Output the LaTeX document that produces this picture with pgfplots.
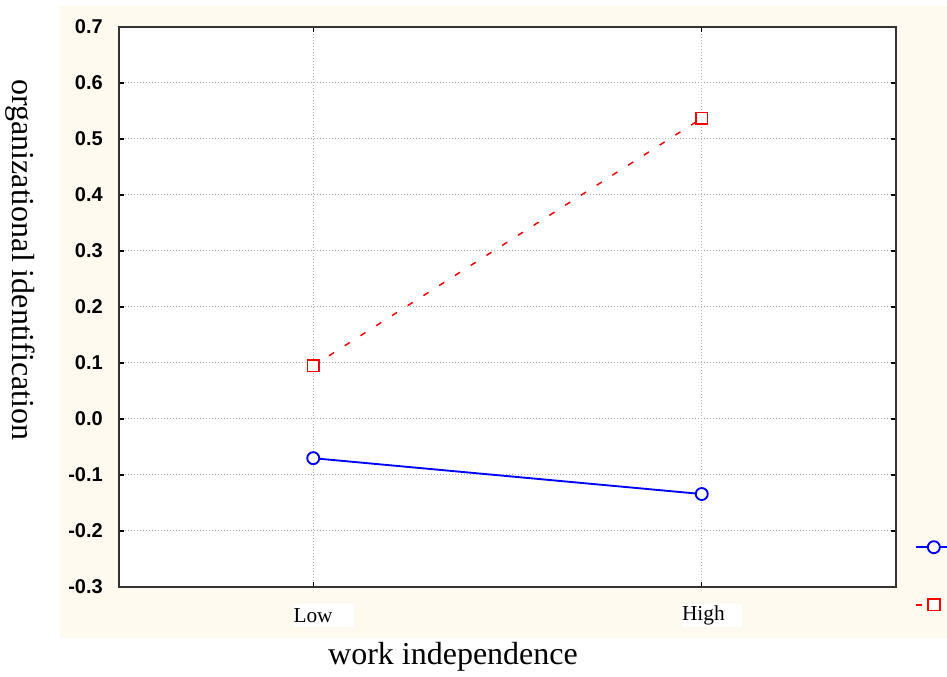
\documentclass[border=0pt]{standalone}
\usepackage{pgfplots}
\pgfplotsset{compat=1.18}
\usepackage{fontspec}
\setmainfont{Liberation Serif}
\setsansfont{Liberation Sans}
\definecolor{beige}{RGB}{255,250,240}

\begin{document}
\begin{tikzpicture}
% 1px = 0.75pt, page 947x677 px
\path[use as bounding box, fill=white] (0,0) rectangle (710.25pt,507.75pt);
\fill[beige] (45pt,29.25pt) rectangle (710.25pt,503.25pt);
\begin{axis}[
    at={(89.25pt,67.5pt)}, anchor=south west,
    scale only axis, width=582.75pt, height=420pt,
    xmin=-0.5, xmax=1.5, ymin=-0.3, ymax=0.7,
    xtick={0,1}, xticklabels={Low,High},
    ytick={-0.3,-0.2,-0.1,0,0.1,0.2,0.3,0.4,0.5,0.6,0.7},
    yticklabels={-0.3,-0.2,-0.1,0.0,0.1,0.2,0.3,0.4,0.5,0.6,0.7},
    tick align=inside, major tick length=3.5pt,
    tick style={black, line width=1pt},
    axis line style={black!80, line width=1.5pt},
    grid=major,
    grid style={gray!60, line width=0.75pt, dash pattern=on 0.75pt off 1.5pt},
    axis background/.style={fill=white},
    yticklabel style={font=\sffamily\bfseries\fontsize{15}{15}\selectfont, inner sep=0pt, xshift=-12pt},
    xticklabel style={font=\fontsize{16}{16}\selectfont, anchor=north west, fill=white,
        inner sep=0pt, text width=45pt, minimum height=17.25pt, align=left,
        xshift=-15pt, yshift=-12.75pt},
    xlabel={work independence},
    ylabel={organizational identification},
    label style={font=\fontsize{24}{24}\selectfont},
    xlabel style={at={(0.4299,-0.125)}, anchor=center},
    ylabel style={at={(-0.1274,0.5839)}, anchor=center, rotate=180},
    legend image code/.code={
        \draw[mark repeat=2, mark phase=2, #1] plot coordinates {(0pt,0pt) (13.5pt,0pt) (27pt,0pt)};
    },
    legend style={draw=none, fill=none, at={(1.024,0.0196)}, anchor=west,
        inner sep=0pt, row sep=28pt, font=\fontsize{14}{14}\selectfont},
    legend cell align=left,
]
\addplot[blue, line width=1.4pt, mark=*, mark size=4.5pt,
    mark options={solid, fill=white, draw=blue, line width=1.4pt}]
    coordinates {(0,-0.070) (1,-0.134)};
\addlegendentry{\phantom{High}}
\addplot[red, line width=1.1pt, dash pattern=on 4.5pt off 9.5pt, mark=square*, mark size=4.3pt,
    mark options={solid, fill=white, draw=red, line width=1.4pt}]
    coordinates {(0,0.095) (1,0.537)};
\addlegendentry{\phantom{High}}
\end{axis}
\end{tikzpicture}
\end{document}
